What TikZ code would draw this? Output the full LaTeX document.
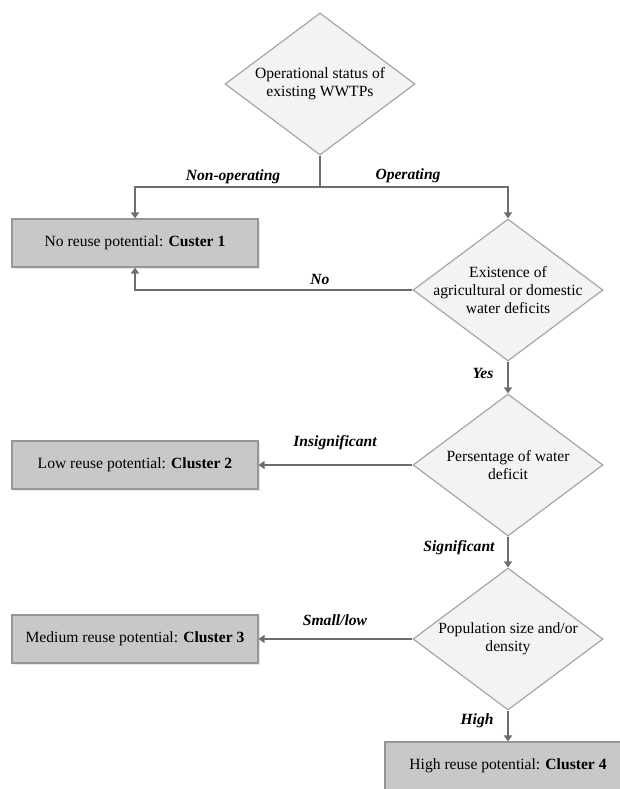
\documentclass[tikz,border=0pt]{standalone}
\usepackage{fontspec}
\setmainfont{Liberation Serif}
\usetikzlibrary{shapes.geometric,arrows.meta,shadows}
\definecolor{boxfill}{RGB}{200,200,200}
\definecolor{boxline}{RGB}{150,150,150}
\definecolor{dfill}{RGB}{243,243,243}
\definecolor{dline}{RGB}{165,165,165}
\definecolor{conn}{RGB}{110,110,110}
\tikzset{
  clusterbox/.style={draw=boxline, line width=1.1pt, fill=boxfill, minimum width=246pt, minimum height=48pt, inner sep=0pt,
    drop shadow={opacity=0.18, shadow xshift=1.5pt, shadow yshift=-1.5pt}},
  decision/.style={draw=dline, line width=1.2pt, fill=dfill, shape=diamond, inner sep=0pt, minimum width=190pt, minimum height=142pt},
  dtext/.style={align=center},
  conn/.style={draw=conn, line width=1.5pt, -{Triangle[width=8pt,length=6pt]}},
  plain/.style={draw=conn, line width=1.5pt},
  lbl/.style={font=\fontsize{15.6}{18}\selectfont\bfseries\itshape, inner sep=0pt}
}
\begin{document}
\begin{tikzpicture}[x=1pt, y=-1pt, font=\fontsize{15.6}{18}\selectfont]
\useasboundingbox (0,0) rectangle (620,789);
% decisions
\node[decision] (d1) at (320,84) {};
\node[dtext] (t1) at (d1.center) {Operational status of\\existing WWTPs};
\node[decision] (d2) at (508,290) {};
\node[dtext] (t2) at (d2.center) {Existence of\\agricultural or domestic\\water deficits};
\node[decision] (d3) at (508,465) {};
\node[dtext] (t3) at (d3.center) {Persentage of water\\deficit};
\node[decision] (d4) at (508,639) {};
\node[dtext] (t4) at (d4.center) {Population size and/or\\density};
% boxes
\node[clusterbox] (b1) at (135,243) {No reuse potential: \textbf{Custer 1}};
\node[clusterbox] (b2) at (135,465) {Low reuse potential: \textbf{Cluster 2}};
\node[clusterbox] (b3) at (135,639) {Medium reuse potential: \textbf{Cluster 3}};
\node[clusterbox] (b4) at (508,766) {High reuse potential: \textbf{Cluster 4}};
% junction
\coordinate (j) at (320,187);
\draw[plain] (d1.south) -- (j);
\draw[conn] (j) -| (b1.north);
\draw[conn] (j) -| (d2.north);
\draw[conn] (d2.west) -| (b1.south);
\draw[conn] (d2.south) -- (d3.north);
\draw[conn] (d3.west) -- (b2.east);
\draw[conn] (d3.south) -- (d4.north);
\draw[conn] (d4.west) -- (b3.east);
\draw[conn] (d4.south) -- (b4.north);
% labels
\node[lbl] (l1) at (233,177) {Non-operating};
\node[lbl] (l2) at (408,176) {Operating};
\node[lbl] (l3) at (320,279) {No};
\node[lbl] (l4) at (483,373) {Yes};
\node[lbl] (l5) at (335,443) {Insignificant};
\node[lbl] (l6) at (459,548) {Significant};
\node[lbl] (l7) at (335,620) {Small/low};
\node[lbl] (l8) at (477,721) {High};
\end{tikzpicture}
\end{document}
